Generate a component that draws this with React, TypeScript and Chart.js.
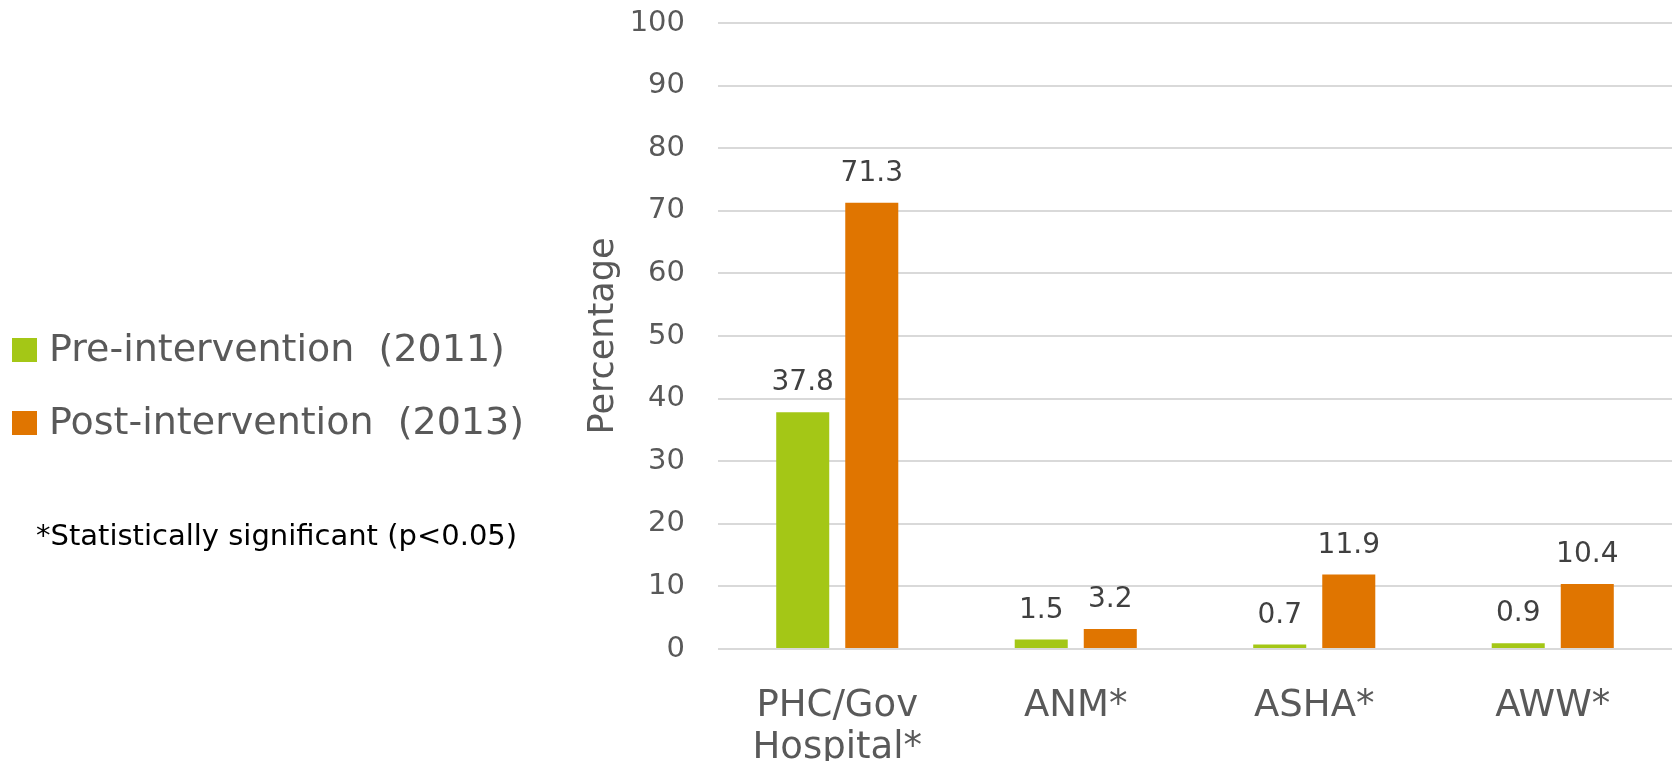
import { useEffect, useRef } from "react";
import { Chart, registerables } from "chart.js";

Chart.register(...registerables);

// Source of delivery care, by facility / health worker
const categories: (string | string[])[] = [["PHC/Gov", "Hospital*"], "ANM*", "ASHA*", "AWW*"];
const preLabel = "Pre-intervention  (2011)";
const postLabel = "Post-intervention  (2013)";
const preValues = [37.8, 1.5, 0.7, 0.9];
const postValues = [71.3, 3.2, 11.9, 10.4];
const yMin = 0;
const yMax = 100;
const yStep = 10;
const yTitle = "Percentage";
const footnote = "*Statistically significant (p<0.05)";

const GREEN = "rgb(164,199,22)";
const ORANGE = "rgb(224,117,0)";
const AXIS_TEXT = "#595959";
const VALUE_TEXT = "#404040";
const FONT = "'DejaVu Sans', sans-serif";

// Writes each bar's value above it
const valueLabels = {
  id: "valueLabels",
  afterDatasetsDraw(chart: any) {
    const { ctx } = chart;
    ctx.save();
    ctx.font = `28px ${FONT}`;
    ctx.fillStyle = VALUE_TEXT;
    ctx.textAlign = "center";
    ctx.textBaseline = "alphabetic";
    chart.data.datasets.forEach((ds: any, di: number) => {
      const meta = chart.getDatasetMeta(di);
      meta.data.forEach((bar: any, i: number) => {
        ctx.fillText(String(ds.data[i]), bar.x, bar.y - 22);
      });
    });
    ctx.restore();
  },
};

// Legend with square swatches and the footnote, to the left of the plot
const sideLegend = {
  id: "sideLegend",
  afterDraw(chart: any) {
    const { ctx } = chart;
    ctx.save();
    const rows = [350, 423];
    ctx.font = `38px ${FONT}`;
    ctx.textBaseline = "middle";
    ctx.textAlign = "left";
    chart.data.datasets.forEach((ds: any, i: number) => {
      const cy = rows[i];
      ctx.fillStyle = ds.backgroundColor;
      ctx.fillRect(12, cy - 12, 25, 24);
      ctx.fillStyle = AXIS_TEXT;
      ctx.fillText(ds.label, 49, cy + 1);
    });
    ctx.font = `29px ${FONT}`;
    ctx.fillStyle = "#000000";
    ctx.fillText(footnote, 36, 537);
    ctx.restore();
  },
};

export default function App() {
  const canvasRef = useRef<HTMLCanvasElement | null>(null);

  useEffect(() => {
    const canvas = canvasRef.current;
    if (!canvas) return;
    const chart = new Chart(canvas, {
      type: "bar",
      data: {
        labels: categories,
        datasets: [
          {
            label: preLabel,
            data: preValues,
            backgroundColor: GREEN,
            categoryPercentage: 0.579,
            barPercentage: 0.768,
          },
          {
            label: postLabel,
            data: postValues,
            backgroundColor: ORANGE,
            categoryPercentage: 0.579,
            barPercentage: 0.768,
          },
        ],
      },
      options: {
        responsive: false,
        devicePixelRatio: 1,
        animation: false,
        layout: { padding: { left: 583, top: 23, right: 6, bottom: 0 } },
        plugins: {
          legend: { display: false },
          tooltip: { enabled: false },
        },
        scales: {
          x: {
            grid: { display: false },
            border: { display: false },
            ticks: {
              color: AXIS_TEXT,
              font: { family: FONT, size: 37, lineHeight: 1.14 },
              padding: 28,
              maxRotation: 0,
              autoSkip: false,
            },
            afterFit(scale: any) {
              scale.height = 112;
            },
          },
          y: {
            min: yMin,
            max: yMax,
            grid: { color: "#d9d9d9", lineWidth: 2, drawTicks: false },
            border: { display: false },
            ticks: {
              stepSize: yStep,
              color: AXIS_TEXT,
              font: { family: FONT, size: 29 },
              padding: 33,
            },
            title: {
              display: true,
              text: yTitle,
              color: AXIS_TEXT,
              font: { family: FONT, size: 35 },
              padding: 0,
            },
            afterFit(scale: any) {
              scale.width = 135;
              scale.paddingTop = 0;
              scale.paddingBottom = 0;
            },
          },
        },
      },
      plugins: [valueLabels, sideLegend],
    });
    return () => chart.destroy();
  }, []);

  return (
    <div style={{ position: "fixed", left: 0, top: 0, width: 1678, height: 761, background: "#fff" }}>
      <canvas ref={canvasRef} width={1678} height={761} style={{ display: "block" }} />
    </div>
  );
}
